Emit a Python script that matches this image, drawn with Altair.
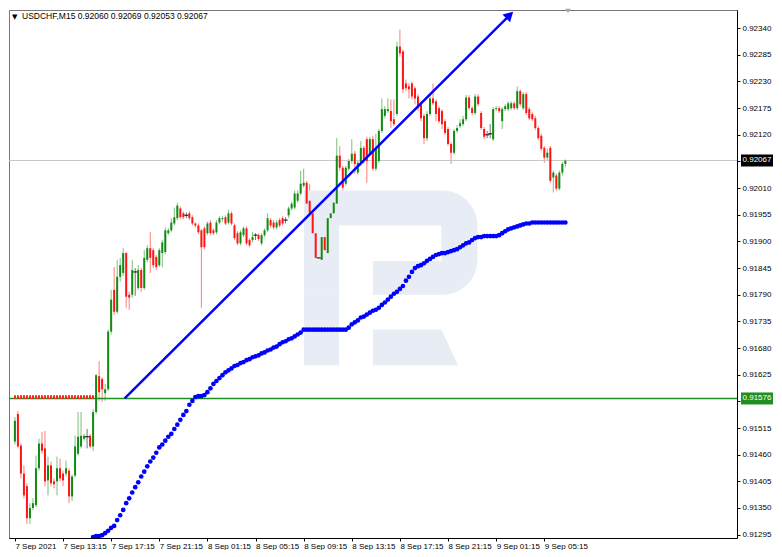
import json
import altair as alt
import pandas as pd

TITLE = "USDCHF,M15  0.92060 0.92069 0.92053 0.92067"

# OHLC of each M15 bar, in points (1 point = 0.00001)
opens_pts = [
    91487, 91544, 91479, 91421, 91395, 91329, 91350, 91356, 91432, 91483,
    91473, 91407, 91438, 91405, 91405, 91432, 91421, 91421, 91427, 91374,
    91417, 91462, 91477, 91493, 91497, 91499, 91477, 91548, 91622, 91616,
    91587, 91595, 91714, 91800, 91755, 91827, 91835, 91876, 91790, 91790,
    91837, 91804, 91841, 91804, 91862, 91886, 91882, 91868, 91851, 91876,
    91878, 91917, 91923, 91937, 91948, 91968, 91958, 91954, 91958, 91950,
    91937, 91933, 91923, 91927, 91917, 91939, 91923, 91919, 91939, 91946,
    91950, 91939, 91958, 91933, 91917, 91896, 91913, 91927, 91903, 91903,
    91913, 91913, 91896, 91913, 91923, 91944, 91939, 91929, 91944, 91948,
    91944, 91954, 91968, 91970, 91984, 91999, 92015, 92021, 91984, 91958,
    91917, 91866, 91862, 91909, 91876, 91948, 91958, 91978, 92077, 92052,
    92019, 92050, 92066, 92081, 92042, 92062, 92093, 92111, 92081, 92111,
    92050, 92066, 92128, 92159, 92169, 92169, 92152, 92163, 92302, 92292,
    92226, 92220, 92226, 92216, 92199, 92183, 92159, 92113, 92163, 92195,
    92189, 92175, 92169, 92148, 92132, 92101, 92083, 92128, 92138, 92142,
    92152, 92197, 92175, 92165, 92199, 92165, 92132, 92120, 92122, 92111,
    92173, 92175, 92148, 92173, 92173, 92175, 92185, 92175, 92210, 92175,
    92204, 92173, 92163, 92154, 92134, 92118, 92093, 92073, 92093, 92032,
    92036, 92009, 92042, 92060,
]
highs_pts = [
    91538, 91550, 91483, 91438, 91401, 91360, 91370, 91458, 91493, 91507,
    91509, 91456, 91446, 91411, 91456, 91452, 91427, 91448, 91432, 91419,
    91499, 91548, 91548, 91503, 91513, 91503, 91554, 91626, 91653, 91620,
    91606, 91718, 91800, 91847, 91862, 91866, 91886, 91878, 91796, 91862,
    91845, 91851, 91845, 91882, 91892, 91919, 91886, 91872, 91886, 91903,
    91929, 91927, 91948, 91970, 91980, 91972, 91962, 91960, 91962, 91954,
    91939, 91937, 91925, 91931, 91941, 91944, 91927, 91944, 91952, 91952,
    91954, 91966, 91962, 91937, 91921, 91923, 91931, 91931, 91907, 91919,
    91917, 91917, 91917, 91927, 91958, 91948, 91944, 91944, 91948, 91952,
    91950, 91972, 91982, 92005, 92005, 92046, 92050, 92025, 92019, 91962,
    91921, 91882, 91913, 91913, 91954, 91984, 91984, 92113, 92097, 92056,
    92056, 92070, 92111, 92087, 92066, 92107, 92097, 92116, 92116, 92118,
    92122, 92132, 92195, 92179, 92195, 92193, 92193, 92312, 92337, 92296,
    92234, 92226, 92230, 92220, 92204, 92189, 92163, 92169, 92204, 92226,
    92193, 92179, 92173, 92152, 92136, 92105, 92132, 92140, 92152, 92159,
    92202, 92202, 92179, 92204, 92204, 92169, 92136, 92128, 92142, 92177,
    92179, 92179, 92177, 92183, 92189, 92189, 92189, 92220, 92214, 92208,
    92208, 92177, 92167, 92159, 92138, 92122, 92097, 92091, 92097, 92046,
    92040, 92046, 92064, 92069,
]
lows_pts = [
    91481, 91473, 91411, 91370, 91317, 91317, 91346, 91352, 91427, 91462,
    91395, 91376, 91395, 91391, 91376, 91405, 91395, 91415, 91360, 91364,
    91413, 91458, 91473, 91489, 91473, 91473, 91468, 91544, 91571, 91569,
    91571, 91591, 91708, 91749, 91751, 91817, 91829, 91763, 91759, 91784,
    91788, 91800, 91796, 91800, 91857, 91835, 91845, 91841, 91847, 91847,
    91874, 91913, 91919, 91933, 91944, 91946, 91946, 91948, 91944, 91933,
    91929, 91915, 91763, 91884, 91913, 91913, 91913, 91915, 91935, 91941,
    91933, 91935, 91933, 91903, 91892, 91892, 91909, 91892, 91888, 91898,
    91903, 91901, 91892, 91909, 91919, 91929, 91925, 91925, 91929, 91933,
    91937, 91948, 91964, 91966, 91980, 91995, 92011, 91972, 91954, 91911,
    91837, 91827, 91857, 91876, 91851, 91944, 91954, 91974, 92046, 92005,
    92015, 92046, 92060, 92040, 92038, 92056, 92060, 92021, 92077, 92046,
    92046, 92062, 92124, 92154, 92165, 92134, 92138, 92159, 92281, 92206,
    92210, 92195, 92193, 92183, 92169, 92148, 92101, 92107, 92159, 92181,
    92148, 92144, 92132, 92120, 92097, 92060, 92079, 92124, 92134, 92138,
    92148, 92171, 92161, 92161, 92179, 92130, 92111, 92113, 92113, 92107,
    92169, 92165, 92132, 92169, 92169, 92171, 92171, 92171, 92179, 92171,
    92161, 92150, 92148, 92130, 92109, 92087, 92062, 92066, 92021, 92001,
    92005, 92005, 92036, 92053,
]
closes_pts = [
    91530, 91477, 91421, 91376, 91329, 91350, 91360, 91432, 91483, 91468,
    91405, 91438, 91401, 91399, 91432, 91411, 91407, 91432, 91374, 91415,
    91477, 91497, 91499, 91499, 91497, 91477, 91548, 91624, 91589, 91595,
    91595, 91714, 91780, 91755, 91827, 91851, 91876, 91786, 91784, 91841,
    91837, 91841, 91804, 91866, 91886, 91866, 91851, 91847, 91882, 91898,
    91923, 91923, 91939, 91950, 91974, 91950, 91950, 91954, 91948, 91937,
    91933, 91919, 91888, 91888, 91937, 91917, 91917, 91939, 91948, 91948,
    91937, 91958, 91937, 91907, 91896, 91919, 91927, 91896, 91892, 91909,
    91913, 91905, 91913, 91923, 91948, 91933, 91929, 91939, 91933, 91937,
    91944, 91968, 91978, 91999, 91999, 92019, 92021, 91978, 91958, 91917,
    91866, 91866, 91909, 91882, 91948, 91958, 91980, 92077, 92052, 92011,
    92052, 92066, 92081, 92060, 92062, 92093, 92070, 92066, 92111, 92050,
    92093, 92128, 92173, 92173, 92173, 92148, 92142, 92302, 92288, 92214,
    92216, 92214, 92199, 92195, 92175, 92154, 92113, 92163, 92195, 92185,
    92163, 92148, 92142, 92124, 92101, 92083, 92128, 92134, 92144, 92152,
    92197, 92175, 92165, 92199, 92183, 92134, 92116, 92120, 92122, 92173,
    92175, 92169, 92173, 92179, 92185, 92185, 92175, 92210, 92183, 92204,
    92165, 92154, 92152, 92134, 92113, 92091, 92073, 92083, 92025, 92042,
    92009, 92042, 92060, 92067,
]

# dotted blue indicator, one value per bar starting at bar 26
indicator_start = 26
indicator_pts = [
    91290, 91292, 91292, 91294, 91298, 91303, 91309, 91313, 91325, 91335,
    91346, 91360, 91370, 91382, 91393, 91403, 91415, 91425, 91436, 91446,
    91454, 91464, 91475, 91481, 91489, 91497, 91503, 91513, 91522, 91532,
    91542, 91550, 91563, 91571, 91579, 91581, 91581, 91583, 91589, 91597,
    91606, 91612, 91618, 91624, 91630, 91634, 91638, 91643, 91645, 91649,
    91651, 91655, 91657, 91661, 91663, 91665, 91669, 91671, 91675, 91677,
    91681, 91683, 91688, 91692, 91694, 91698, 91700, 91704, 91708, 91712,
    91718, 91718, 91718, 91718, 91718, 91718, 91718, 91718, 91718, 91718,
    91718, 91718, 91718, 91718, 91718, 91722, 91729, 91733, 91737, 91743,
    91745, 91749, 91753, 91757, 91759, 91763, 91769, 91774, 91780, 91786,
    91792, 91796, 91802, 91808, 91819, 91827, 91837, 91845, 91849, 91851,
    91855, 91860, 91864, 91868, 91872, 91874, 91876, 91876, 91878, 91880,
    91882, 91884, 91888, 91892, 91896, 91898, 91903, 91907, 91909, 91909,
    91911, 91911, 91911, 91911, 91911, 91913, 91917, 91921, 91925, 91927,
    91929, 91931, 91933, 91935, 91937, 91937, 91939, 91939, 91939, 91939,
    91939, 91939, 91939, 91939, 91939, 91939, 91939, 91939,
]

time_tick_bars = [0, 16, 32, 48, 64, 80, 96, 112, 128, 144, 160, 176]
time_labels = ["7 Sep 2021", "7 Sep 13:15", "7 Sep 17:15", "7 Sep 21:15",
               "8 Sep 01:15", "8 Sep 05:15", "8 Sep 09:15", "8 Sep 13:15",
               "8 Sep 17:15", "8 Sep 21:15", "9 Sep 01:15", "9 Sep 05:15"]
price_ticks = [0.91295, 0.91350, 0.91405, 0.91460, 0.91515, 0.91570, 0.91625,
               0.91680, 0.91735, 0.91790, 0.91845, 0.91900, 0.91955, 0.92010,
               0.92065, 0.92120, 0.92175, 0.92230, 0.92285, 0.92340]
# tick labels hidden behind the price boxes on the axis
hidden_tick_labels = [0.91570, 0.92065]

support_level = 0.91576
current_price = 0.92067
red_level = 0.91579
red_level_bars = [-0.3, 27]
trend_bars = [36.5, 164.5]
trend_prices = [0.91576, 0.92367]

W, H = 728, 528
X_DOMAIN = [-0.3, 238.4]
Y_DOMAIN = [0.912881, 0.923775]
FONT = "Liberation Sans"

xs = alt.Scale(domain=X_DOMAIN, nice=False, zero=False)
ys = alt.Scale(domain=Y_DOMAIN, nice=False, zero=False)

n = len(closes_pts)
df = pd.DataFrame({
    "i": list(range(n)),
    "o": [v / 1e5 for v in opens_pts],
    "h": [v / 1e5 for v in highs_pts],
    "l": [v / 1e5 for v in lows_pts],
    "c": [v / 1e5 for v in closes_pts],
})
df["dir"] = ["up" if c > o else ("down" if c < o else "doji")
             for o, c in zip(opens_pts, closes_pts)]

ind_df = pd.DataFrame({
    "i": [indicator_start + k for k in range(len(indicator_pts))],
    "v": [v / 1e5 for v in indicator_pts],
})

color_enc = alt.Color("dir:N", scale=alt.Scale(domain=["up", "down", "doji"],
                      range=["#128a12", "#ff1414", "#000000"]), legend=None)

hide_cond = " || ".join(f"abs(datum.value - {v}) < 1e-7" for v in hidden_tick_labels)
x_axis = alt.Axis(values=time_tick_bars,
                  labelExpr=json.dumps(time_labels) + "[round(datum.value / 16)]",
                  labelAlign="left", labelBaseline="top", labelFlush=False,
                  labelOverlap=False, labelFont=FONT, labelFontSize=8,
                  labelColor="#000", tickSize=3, tickColor="#000",
                  domainColor="#000", labelPadding=1, grid=False, title=None)
y_axis = alt.Axis(orient="right", values=price_ticks,
                  labelExpr=f"({hide_cond}) ? '' : format(datum.value, '.5f')",
                  labelOverlap=False, labelFont=FONT, labelFontSize=8,
                  labelColor="#000", tickSize=3, tickColor="#000",
                  domainColor="#000", labelPadding=2, grid=False, title=None)


def X(field):
    return alt.X(field, scale=xs, axis=x_axis)


def Y(field):
    return alt.Y(field, scale=ys, axis=y_axis)


one = pd.DataFrame({"a": [0]})
WM = "#e8edf5"


def wm_rect(x1, x2, y1, y2, color=WM, **kw):
    return alt.Chart(one).mark_rect(color=color, **kw).encode(
        x=alt.value(x1), x2=alt.value(x2), y=alt.value(y1), y2=alt.value(y2))


watermark = [
    wm_rect(295, 468.5, 180.6, 284.8, cornerRadiusTopRight=35, cornerRadiusBottomRight=35),
    wm_rect(330, 364, 215.4, 284.8, color="white"),
    wm_rect(364, 432.4, 215.4, 251.1, color="white"),
    wm_rect(295, 330, 284.8, 355.3),
    alt.Chart(one).mark_point(
        shape="M-0.944,-0.398L0.576,-0.398L0.944,0.396L-0.944,0.396Z",
        size=8100, filled=True, color=WM, opacity=1, strokeWidth=0).encode(
        x=alt.value(406.5), y=alt.value(337.5)),
]

wicks = alt.Chart(df).mark_rule(strokeWidth=1).encode(
    x=X("i:Q"), y=Y("l:Q"), y2="h:Q",
    color=color_enc,
    opacity=alt.Opacity("dir:N", scale=alt.Scale(domain=["up", "down", "doji"],
                        range=[0.55, 0.55, 0.9]), legend=None))
bodies = alt.Chart(df).mark_bar(size=2).encode(
    x=X("i:Q"), y=Y("o:Q"), y2="c:Q", color=color_enc)
doji = alt.Chart(df).transform_filter("datum.dir == 'doji'").mark_point(
    shape="M-1,0L1,0", size=16, filled=False, strokeWidth=1, color="#000", opacity=1).encode(
    x=X("i:Q"), y=Y("c:Q"))

gray_line = alt.Chart(pd.DataFrame({"y": [current_price]})).mark_rule(
    color="#c8c8c8", strokeWidth=1).encode(y=Y("y:Q"))
green_line = alt.Chart(pd.DataFrame({"y": [support_level]})).mark_rule(
    color="#1f8f1f", strokeWidth=1.6).encode(y=Y("y:Q"))
red_line = alt.Chart(pd.DataFrame({"x": [red_level_bars[0]], "x2": [red_level_bars[1]],
                                   "y": [red_level]})).mark_rule(
    color="#ff2020", strokeWidth=3.5, strokeDash=[2, 1]).encode(
    x=X("x:Q"), x2="x2:Q", y=Y("y:Q"))

dots = alt.Chart(ind_df).mark_circle(size=22, color="#0000ff", opacity=1, clip=True).encode(
    x=X("i:Q"), y=Y("v:Q"))

trend_df = pd.DataFrame({"i": trend_bars, "p": trend_prices})
trend = alt.Chart(trend_df).mark_line(color="#0000ff", strokeWidth=2.5).encode(
    x=X("i:Q"), y=Y("p:Q"))
arrow = alt.Chart(trend_df.tail(1)).mark_point(
    shape="triangle-up", size=120, filled=True, angle=46, color="#0000ff", opacity=1).encode(
    x=X("i:Q"), y=Y("p:Q"))

box_df = pd.DataFrame({"p": [current_price, support_level],
                       "label": [f"{current_price:.5f}", f"{support_level:.5f}"],
                       "col": ["#000000", "#1f8f1f"]})
boxes = alt.Chart(box_df).mark_point(
    shape="M-1,-0.375L1,-0.375L1,0.375L-1,0.375Z", size=1024, filled=True,
    opacity=1, strokeWidth=0).encode(
    x=alt.value(W + 20), y=Y("p:Q"),
    color=alt.Color("col:N", scale=None))
box_text = alt.Chart(box_df).mark_text(
    color="white", font=FONT, fontSize=8, align="center", baseline="middle").encode(
    x=alt.value(W + 20), y=Y("p:Q"), text="label:N")

title_tri = alt.Chart(one).mark_text(text="▼", font="DejaVu Sans", fontSize=7,
                                     align="left", baseline="top", color="#000").encode(
    x=alt.value(3), y=alt.value(3))
title = alt.Chart(one).mark_text(text=TITLE, font=FONT, fontSize=8.5, align="left",
                                 baseline="top", color="#000").encode(
    x=alt.value(13), y=alt.value(2))
shift_marker = alt.Chart(one).mark_point(shape="triangle-down", size=30, filled=True,
                                         color="#a8a8a8", opacity=1).encode(
    x=alt.value(559), y=alt.value(1))

chart = alt.layer(
    wicks, *watermark, gray_line, green_line, red_line, dots,
    bodies, doji, trend, arrow, boxes, box_text,
    title_tri, title, shift_marker,
).properties(width=W, height=H, padding=0).configure_view(
    stroke="#777", strokeWidth=1)

chart.save("out.html", embed_options={"renderer": "svg", "actions": False})
